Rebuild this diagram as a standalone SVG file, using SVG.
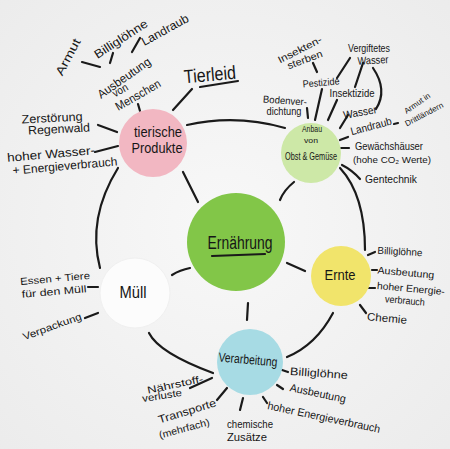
<svg xmlns="http://www.w3.org/2000/svg" width="450" height="449" viewBox="0 0 450 449">
<defs>
<radialGradient id="bg" cx="0.5" cy="0.5" r="0.75">
<stop offset="0" stop-color="#f8f8f8"/>
<stop offset="1" stop-color="#ebebeb"/>
</radialGradient>
</defs>
<style>
text{font-family:"Liberation Sans","DejaVu Sans",sans-serif;fill:#161616;text-anchor:middle}
.c path,.c line{stroke:#1a1a1a;stroke-width:2.2;stroke-linecap:round;fill:none}
</style>
<rect width="450" height="449" fill="url(#bg)"/>

<g class="c" id="connectors">
<path d="M187,125 Q236,114 285,128"/>
<path d="M340,168 Q365,195 365,250"/>
<path d="M333,313 Q316,345 287,357"/>
<path d="M213,373 Q159,353 149,333"/>
<path d="M100,268 Q87,218 118,168"/>
<line x1="183" y1="172" x2="198" y2="202"/>
<path d="M294,182 Q284,190 280,200"/>
<line x1="287" y1="263" x2="305" y2="271"/>
<line x1="248" y1="303" x2="247" y2="320"/>
<path d="M190,268 Q180,270 172,275"/>
<line x1="82" y1="62" x2="100" y2="67"/>
<line x1="113" y1="53" x2="110" y2="63"/>
<line x1="140" y1="38" x2="132" y2="52"/>
<line x1="138" y1="104" x2="140" y2="111"/>
<line x1="192" y1="89" x2="173" y2="110"/>
<line x1="200" y1="87" x2="238" y2="81"/>
<line x1="98" y1="125" x2="117" y2="132"/>
<line x1="95" y1="152" x2="118" y2="146"/>
<line x1="313" y1="63" x2="317" y2="72"/>
<line x1="350" y1="58" x2="337" y2="78"/>
<line x1="363" y1="63" x2="355" y2="87"/>
<path d="M373,68 Q388,90 376,109"/>
<line x1="307" y1="108" x2="308" y2="118"/>
<line x1="322" y1="89" x2="315" y2="120"/>
<line x1="337" y1="100" x2="328" y2="120"/>
<line x1="348" y1="115" x2="340" y2="128"/>
<line x1="340" y1="140" x2="348" y2="137"/>
<line x1="341" y1="148" x2="349" y2="148"/>
<path d="M342,165 Q352,170 360,179"/>
<line x1="394" y1="124" x2="398" y2="123"/>
<line x1="368" y1="255" x2="375" y2="252"/>
<line x1="372" y1="270" x2="377" y2="270"/>
<line x1="369" y1="288" x2="375" y2="288"/>
<line x1="360" y1="305" x2="366" y2="313"/>
<line x1="88" y1="287" x2="98" y2="287"/>
<line x1="85" y1="318" x2="98" y2="313"/>
<line x1="282" y1="370" x2="288" y2="372"/>
<line x1="277" y1="385" x2="283" y2="389"/>
<line x1="263" y1="397" x2="267" y2="403"/>
<line x1="243" y1="398" x2="240" y2="410"/>
<line x1="217" y1="400" x2="227" y2="388"/>
<line x1="190" y1="388" x2="212" y2="378"/>
</g>

<g id="node-ernaehrung">
<circle cx="236" cy="242" r="49" fill="#82c648"/>
<text x="240" y="249" font-size="18" textLength="65" lengthAdjust="spacingAndGlyphs">Ernährung</text>
<line x1="212" y1="256" x2="265" y2="254" stroke="#1a1a1a" stroke-width="2.2" stroke-linecap="round"/>
</g>

<g id="node-tierische">
<circle cx="153" cy="143" r="34" fill="#f2b7c2"/>
<text x="158" y="137" font-size="14" textLength="48" lengthAdjust="spacingAndGlyphs">tierische</text>
<text x="157" y="153" font-size="14" textLength="51" lengthAdjust="spacingAndGlyphs">Produkte</text>
</g>
<g id="tierische-labels">
<text x="68" y="61" font-size="12" textLength="40" lengthAdjust="spacingAndGlyphs" transform="rotate(-62 68 57)">Armut</text>
<text x="121" y="43" font-size="12" textLength="61" lengthAdjust="spacingAndGlyphs" transform="rotate(-33 121 39)">Billiglöhne</text>
<text x="165" y="34" font-size="12" textLength="52" lengthAdjust="spacingAndGlyphs" transform="rotate(-29 165 30)">Landraub</text>
<text x="124" y="82" font-size="12" textLength="62" lengthAdjust="spacingAndGlyphs" transform="rotate(-35 124 78)">Ausbeutung</text>
<text x="120" y="94" font-size="11" textLength="16" lengthAdjust="spacingAndGlyphs" transform="rotate(-30 120 90)">von</text>
<text x="138" y="99" font-size="12" textLength="50" lengthAdjust="spacingAndGlyphs" transform="rotate(-30 138 95)">Menschen</text>
<text x="210" y="81" font-size="19" textLength="52" lengthAdjust="spacingAndGlyphs" transform="rotate(-5 210 75)">Tierleid</text>
<text x="52" y="122" font-size="12" textLength="61" lengthAdjust="spacingAndGlyphs" transform="rotate(-3 52 118)">Zerstörung</text>
<text x="59" y="133" font-size="12" textLength="62" lengthAdjust="spacingAndGlyphs" transform="rotate(-3 59 129)">Regenwald</text>
<text x="51" y="158" font-size="12" textLength="88" lengthAdjust="spacingAndGlyphs" transform="rotate(-5 51 154)">hoher Wasser-</text>
<text x="65" y="170" font-size="12" textLength="105" lengthAdjust="spacingAndGlyphs" transform="rotate(-5 65 166)">+ Energieverbrauch</text>
</g>

<g id="node-anbau">
<circle cx="311" cy="153" r="30" fill="#cde8a7"/>
<text x="312" y="132" font-size="9" textLength="20" lengthAdjust="spacingAndGlyphs">Anbau</text>
<text x="311" y="143" font-size="8" textLength="14" lengthAdjust="spacingAndGlyphs">von</text>
<text x="311" y="160" font-size="11" textLength="52" lengthAdjust="spacingAndGlyphs">Obst &amp; Gemüse</text>
</g>
<g id="anbau-labels">
<text x="300" y="53" font-size="10" textLength="48" lengthAdjust="spacingAndGlyphs" transform="rotate(-27 300 50)">Insekten-</text>
<text x="305" y="63" font-size="10" textLength="37" lengthAdjust="spacingAndGlyphs" transform="rotate(-20 305 60)">sterben</text>
<text x="321" y="86" font-size="10" textLength="37" lengthAdjust="spacingAndGlyphs" transform="rotate(-5 321 82)">Pestizide</text>
<text x="369" y="52" font-size="10" textLength="42" lengthAdjust="spacingAndGlyphs">Vergiftetes</text>
<text x="373" y="64" font-size="11" textLength="31" lengthAdjust="spacingAndGlyphs" transform="rotate(-3 373 60)">Wasser</text>
<text x="352" y="97" font-size="10" textLength="45" lengthAdjust="spacingAndGlyphs">Insektizide</text>
<text x="285" y="104" font-size="10" textLength="44" lengthAdjust="spacingAndGlyphs" transform="rotate(4 285 100)">Bodenver-</text>
<text x="284" y="115" font-size="10" textLength="35" lengthAdjust="spacingAndGlyphs">dichtung</text>
<text x="360" y="116" font-size="11" textLength="34" lengthAdjust="spacingAndGlyphs" transform="rotate(-10 360 112)">Wasser</text>
<text x="371" y="130" font-size="11" textLength="42" lengthAdjust="spacingAndGlyphs" transform="rotate(-15 371 126)">Landraub</text>
<text x="417" y="106" font-size="8" textLength="30" lengthAdjust="spacingAndGlyphs" transform="rotate(-35 417 103)">Armut in</text>
<text x="424" y="117" font-size="8" textLength="42" lengthAdjust="spacingAndGlyphs" transform="rotate(-28 424 114)">Drittländern</text>
<text x="389" y="150" font-size="11" textLength="68" lengthAdjust="spacingAndGlyphs">Gewächshäuser</text>
<text x="392" y="163" font-size="9.5" textLength="78" lengthAdjust="spacingAndGlyphs">(hohe CO₂ Werte)</text>
<text x="391" y="183" font-size="11" textLength="52" lengthAdjust="spacingAndGlyphs">Gentechnik</text>
</g>

<g id="node-ernte">
<circle cx="341" cy="276" r="30" fill="#f1e46b"/>
<text x="340" y="280" font-size="15" textLength="31" lengthAdjust="spacingAndGlyphs">Ernte</text>
</g>
<g id="ernte-labels">
<text x="400" y="255" font-size="10" textLength="45" lengthAdjust="spacingAndGlyphs" transform="rotate(3 400 251)">Billiglöhne</text>
<text x="406" y="276" font-size="10" textLength="57" lengthAdjust="spacingAndGlyphs" transform="rotate(5 406 272)">Ausbeutung</text>
<text x="411" y="292" font-size="10" textLength="68" lengthAdjust="spacingAndGlyphs" transform="rotate(5 411 288)">hoher Energie-</text>
<text x="405" y="304" font-size="10" textLength="40" lengthAdjust="spacingAndGlyphs" transform="rotate(5 405 300)">verbrauch</text>
<text x="387" y="322" font-size="11" textLength="40" lengthAdjust="spacingAndGlyphs" transform="rotate(5 387 318)">Chemie</text>
</g>

<g id="node-muell">
<circle cx="135" cy="293" r="35" fill="#fcfcfc" stroke="#f0f0f0" stroke-width="1"/>
<text x="133" y="298" font-size="16" textLength="27" lengthAdjust="spacingAndGlyphs">Müll</text>
</g>
<g id="muell-labels">
<text x="55" y="282" font-size="10" textLength="70" lengthAdjust="spacingAndGlyphs" transform="rotate(-5 55 278)">Essen + Tiere</text>
<text x="54" y="295" font-size="10" textLength="65" lengthAdjust="spacingAndGlyphs" transform="rotate(-5 54 291)">für den Müll</text>
<text x="52" y="330" font-size="10" textLength="62" lengthAdjust="spacingAndGlyphs" transform="rotate(-20 52 326)">Verpackung</text>
</g>

<g id="node-verarbeitung">
<circle cx="250" cy="362" r="33" fill="#a7dbe4"/>
<text x="248" y="364" font-size="13" textLength="59" lengthAdjust="spacingAndGlyphs" transform="rotate(5 248 360)">Verarbeitung</text>
</g>
<g id="verarbeitung-labels">
<text x="319" y="377" font-size="11" textLength="58" lengthAdjust="spacingAndGlyphs" transform="rotate(4 319 373)">Billiglöhne</text>
<text x="318" y="397" font-size="11" textLength="57" lengthAdjust="spacingAndGlyphs" transform="rotate(12 318 393)">Ausbeutung</text>
<text x="324" y="421" font-size="11" textLength="115" lengthAdjust="spacingAndGlyphs" transform="rotate(12 324 417)">hoher Energieverbrauch</text>
<text x="250" y="428" font-size="11" textLength="46" lengthAdjust="spacingAndGlyphs">chemische</text>
<text x="247" y="441" font-size="11" textLength="40" lengthAdjust="spacingAndGlyphs">Zusätze</text>
<text x="187" y="415" font-size="11" textLength="60" lengthAdjust="spacingAndGlyphs" transform="rotate(-17 187 411)">Transporte</text>
<text x="184" y="432" font-size="10" textLength="52" lengthAdjust="spacingAndGlyphs" transform="rotate(-15 184 428)">(mehrfach)</text>
<text x="175" y="388" font-size="10" textLength="57" lengthAdjust="spacingAndGlyphs" transform="rotate(-12 175 384)">Nährstoff-</text>
<text x="162" y="399" font-size="10" textLength="40" lengthAdjust="spacingAndGlyphs" transform="rotate(-9 162 395)">verluste</text>
</g>
</svg>
